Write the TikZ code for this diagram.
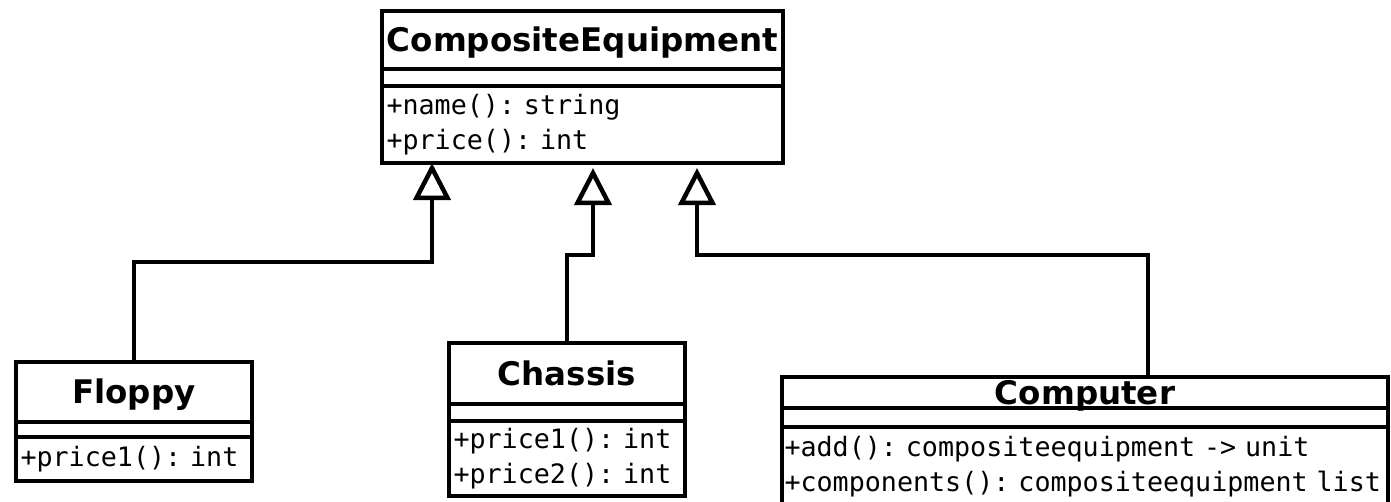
\documentclass[tikz,border=0pt]{standalone}
\usepackage{fontspec}
\setmainfont{DejaVu Sans}
\newfontfamily\opsfamily{DejaVu Sans Mono}
\protected\def\opsfont{\opsfamily\frenchspacing\fontsize{26.7}{35}\selectfont\spaceskip=16.07pt\relax}
\usetikzlibrary{arrows.meta,positioning}

\tikzset{
  umlpart/.style={draw, line width=4.5pt, inner sep=0pt, outer sep=0pt},
  clsname/.style={umlpart, font=\bfseries\fontsize{32.5}{38}\selectfont, text height=23.5pt, text depth=0pt},
  clsgap/.style={umlpart},
  clsops/.style={umlpart, font=\opsfont, align=left, inner xsep=4.5pt},
  inherit/.style={line width=4.5pt, -{Triangle[open, length=37pt, width=37pt]}}
}

\begin{document}
\begin{tikzpicture}[x=1pt, y=-1pt]
  \clip (0,0) rectangle (1391,501);
  \fill[white] (0,0) rectangle (1391,501);

  % base class
  \node[clsname, minimum width=401pt, minimum height=58pt, anchor=north west] (ce) at (382,11) {CompositeEquipment};
  \node[clsgap, minimum width=401pt, minimum height=17pt, below=0pt of ce] (ce-gap) {};
  \node[clsops, text width=392pt, minimum height=77pt, below=0pt of ce-gap] (ce-ops) {+name(): string\\+price(): int};

  % subclasses
  \node[clsname, minimum width=236pt, minimum height=60pt, anchor=north west] (fl) at (16,362) {Floppy};
  \node[clsgap, minimum width=236pt, minimum height=15pt, below=0pt of fl] (fl-gap) {};
  \node[clsops, text width=227pt, minimum height=44pt, below=0pt of fl-gap] (fl-ops) {+price1(): int};

  \node[clsname, minimum width=236pt, minimum height=61pt, anchor=north west] (ch) at (449,343) {Chassis};
  \node[clsgap, minimum width=236pt, minimum height=17pt, below=0pt of ch] (ch-gap) {};
  \node[clsops, text width=227pt, minimum height=75pt, below=0pt of ch-gap] (ch-ops) {+price1(): int\\+price2(): int};

  \node[clsname, minimum width=606pt, minimum height=31pt, anchor=north west] (cp) at (782,377) {Computer};
  \node[clsgap, minimum width=606pt, minimum height=19pt, below=0pt of cp] (cp-gap) {};
  \node[clsops, inner xsep=2.5pt, text width=601pt, minimum height=80pt, below=0pt of cp-gap] (cp-ops)
    {\mbox{+add(): compositeequipment -> unit}\\\mbox{+components(): compositeequipment list}};

  % generalisation
  \draw[inherit] (fl.north) -- ++(0,-100) -| ([xshift=50pt]ce-ops.south west);
  \draw[inherit] (ch.north) -- ++(0,-88) -| ([xshift=211pt,yshift=-5pt]ce-ops.south west);
  \draw[inherit] ([xshift=63pt]cp.north) -- ++(0,-122) -| ([xshift=315pt,yshift=-5pt]ce-ops.south west);
\end{tikzpicture}
\end{document}
